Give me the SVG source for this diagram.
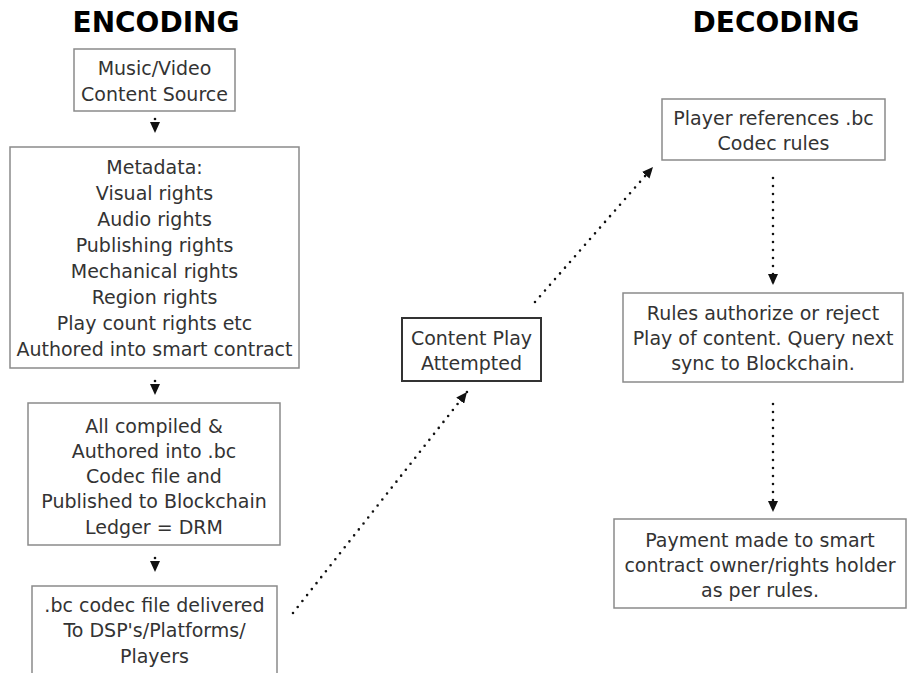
<svg xmlns="http://www.w3.org/2000/svg" width="907" height="673" viewBox="0 0 907 673">
<defs>
<style>
.title{font-family:"DejaVu Sans","Liberation Sans",sans-serif;font-weight:bold;font-size:28px;fill:#000;text-anchor:middle}
.t{font-family:"DejaVu Sans","Liberation Sans",sans-serif;font-size:19px;fill:#333;text-anchor:middle}
.box{fill:#fff;stroke:#8a8a8a;stroke-width:1.5}
.dark{fill:#fff;stroke:#333;stroke-width:2}
.dots{fill:none;stroke:#111;stroke-width:2.6;stroke-linecap:round;marker-end:url(#ah)}
</style>
<marker id="ah" markerUnits="userSpaceOnUse" viewBox="0 0 11 10" refX="11" refY="5" markerWidth="11" markerHeight="10" orient="auto">
<path d="M0,0 L11,5 L0,10 z" fill="#111"/>
</marker>
</defs>
<rect width="907" height="673" fill="#fff"/>
<text class="title" x="156" y="32">ENCODING</text>
<text class="title" x="776" y="32">DECODING</text>

<g id="n1"><rect class="box" x="74" y="49" width="161" height="62"/>
<text class="t" x="154.5" y="75">Music/Video</text><text class="t" x="154.5" y="101">Content Source</text></g>

<g id="n2"><rect class="box" x="10" y="147" width="289" height="221"/>
<text class="t" x="154.5" y="174">Metadata:</text>
<text class="t" x="154.5" y="200">Visual rights</text>
<text class="t" x="154.5" y="226">Audio rights</text>
<text class="t" x="154.5" y="252">Publishing rights</text>
<text class="t" x="154.5" y="278">Mechanical rights</text>
<text class="t" x="154.5" y="304">Region rights</text>
<text class="t" x="154.5" y="330">Play count rights etc</text>
<text class="t" x="154.5" y="356">Authored into smart contract</text></g>

<g id="n3"><rect class="box" x="28" y="403" width="252" height="142"/>
<text class="t" x="154" y="433">All compiled &amp;</text>
<text class="t" x="154" y="458">Authored into .bc</text>
<text class="t" x="154" y="483">Codec file and</text>
<text class="t" x="154" y="508">Published to Blockchain</text>
<text class="t" x="154" y="534">Ledger = DRM</text></g>

<g id="n4"><rect class="box" x="32" y="586" width="245" height="100"/>
<text class="t" x="154.5" y="612">.bc codec file delivered</text>
<text class="t" x="154.5" y="637">To DSP's/Platforms/</text>
<text class="t" x="154.5" y="663">Players</text></g>

<g id="n5"><rect class="dark" x="402" y="318" width="139" height="63"/>
<text class="t" x="471.5" y="345">Content Play</text>
<text class="t" x="471.5" y="370">Attempted</text></g>

<g id="n6"><rect class="box" x="662" y="99" width="223" height="61"/>
<text class="t" x="773.5" y="125">Player references .bc</text>
<text class="t" x="773.5" y="150">Codec rules</text></g>

<g id="n7"><rect class="box" x="623" y="293" width="280" height="89"/>
<text class="t" x="763" y="320">Rules authorize or reject</text>
<text class="t" x="763" y="345">Play of content. Query next</text>
<text class="t" x="763" y="370">sync to Blockchain.</text></g>

<g id="n8"><rect class="box" x="614" y="519" width="292" height="89"/>
<text class="t" x="760" y="547">Payment made to smart</text>
<text class="t" x="760" y="572">contract owner/rights holder</text>
<text class="t" x="760" y="597">as per rules.</text></g>

<g id="connectors">
<path class="dots" stroke-dasharray="0 30" d="M155,119 L155,133"/>
<path class="dots" stroke-dasharray="0 30" d="M155,381 L155,395"/>
<path class="dots" stroke-dasharray="0 30" d="M155,558 L155,572"/>
<path class="dots" stroke-dasharray="0 7.6" d="M293,613 L467,392"/>
<path class="dots" stroke-dasharray="0 7.6" d="M535,302 L653,167"/>
<path class="dots" stroke-dasharray="0 8" d="M773,178 L773,285"/>
<path class="dots" stroke-dasharray="0 8" d="M773,404 L773,512"/>
</g>
</svg>
